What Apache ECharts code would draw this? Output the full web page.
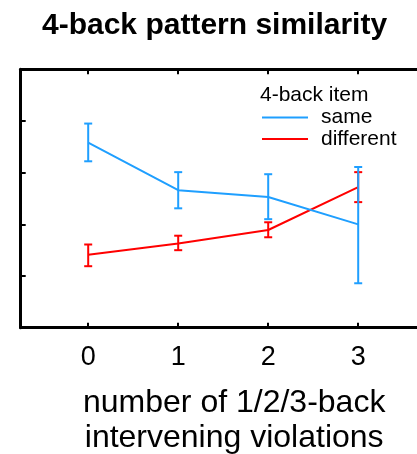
<!DOCTYPE html>
<html>
<head>
<meta charset="utf-8">
<script src="https://cdn.jsdelivr.net/npm/echarts@6/dist/echarts.min.js"></script>
<style>
html,body{margin:0;padding:0;background:#fff;}
#chart{width:417px;height:454px;}
</style>
</head>
<body>
<div id="chart"></div>
<script>
const chartTitle = '4-back pattern similarity';
const legendTitle = '4-back item';
const xName = 'number of 1/2/3-back\nintervening violations';
const xValues = [0, 1, 2, 3];
const seriesNames = ['same', 'different'];
const sameMean = [3.58, 2.66, 2.53, 2.00];
const sameLow  = [3.22, 2.31, 2.10, 0.86];
const sameHigh = [3.95, 3.01, 2.97, 3.11];
const diffMean = [1.41, 1.63, 1.89, 2.72];
const diffLow  = [1.19, 1.50, 1.75, 2.43];
const diffHigh = [1.61, 1.78, 2.04, 3.01];

const BLUE = '#1f9fff';
const RED = '#ff0000';
const FONT = 'Liberation Sans, Arial, sans-serif';

function pairs(xs, ys) { return xs.map((x, i) => [x, ys[i]]); }
function bars(xs, lo, hi) { return xs.map((x, i) => [x, lo[i], hi[i]]); }

function errRender(color) {
  return function (params, api) {
    const x = api.value(0);
    const pLo = api.coord([x, api.value(1)]);
    const pHi = api.coord([x, api.value(2)]);
    const w = 4;
    const style = { stroke: color, lineWidth: 2 };
    return {
      type: 'group',
      children: [
        { type: 'line', shape: { x1: pLo[0], y1: pLo[1], x2: pHi[0], y2: pHi[1] }, style: style },
        { type: 'line', shape: { x1: pLo[0] - w, y1: pLo[1], x2: pLo[0] + w, y2: pLo[1] }, style: style },
        { type: 'line', shape: { x1: pHi[0] - w, y1: pHi[1], x2: pHi[0] + w, y2: pHi[1] }, style: style }
      ]
    };
  };
}

const axisLineStyle = { color: '#000', width: 3 };
const tickStyle = { color: '#000', width: 2 };

const chart = echarts.init(document.getElementById('chart'), null, { renderer: 'canvas' });
chart.setOption({
  animation: false,
  backgroundColor: '#fff',
  title: [
    { text: chartTitle, left: 42, top: 11, padding: 0,
      textStyle: { fontFamily: FONT, fontWeight: 'bold', fontSize: 30, color: '#000' } },
    { text: legendTitle, left: 260, top: 85, padding: 0,
      textStyle: { fontFamily: FONT, fontWeight: 'normal', fontSize: 21, color: '#000' } }
  ],
  legend: {
    data: seriesNames,
    orient: 'vertical',
    left: 262,
    top: 107,
    padding: 0,
    itemWidth: 46,
    itemHeight: 2,
    itemGap: 0.6,
    icon: 'rect',
    textStyle: { fontFamily: FONT, fontSize: 21, color: '#000', padding: [0, 0, 0, 8] }
  },
  grid: { left: 20.7, top: 69.3, width: 405, height: 258.4, containLabel: false, outerBoundsMode: 'none' },
  xAxis: [
    {
      type: 'value', min: -0.75, max: 3.75, position: 'bottom',
      axisLine: { show: true, onZero: false, lineStyle: axisLineStyle },
      axisTick: { show: true, inside: true, length: 5, customValues: xValues, lineStyle: tickStyle },
      axisLabel: { show: true, customValues: xValues, fontFamily: FONT, fontSize: 27, color: '#000', margin: 16 },
      splitLine: { show: false },
      name: xName, nameLocation: 'middle', nameGap: 58,
      nameTextStyle: { fontFamily: FONT, fontSize: 32, color: '#000', lineHeight: 35, padding: [0, 0, 0, 22] }
    },
    {
      type: 'value', min: -0.75, max: 3.75, position: 'top',
      axisLine: { show: true, onZero: false, lineStyle: axisLineStyle },
      axisTick: { show: true, inside: true, length: 5, customValues: xValues, lineStyle: tickStyle },
      axisLabel: { show: false },
      splitLine: { show: false }
    }
  ],
  yAxis: {
    type: 'value', min: 0, max: 5, interval: 1,
    axisLine: { show: true, onZero: false, lineStyle: axisLineStyle },
    axisTick: { show: true, inside: true, length: 5, lineStyle: tickStyle },
    axisLabel: { show: false },
    splitLine: { show: false }
  },
  series: [
    { name: seriesNames[1], type: 'line', data: pairs(xValues, diffMean), color: RED,
      showSymbol: false, symbol: 'none', lineStyle: { width: 2, color: RED }, z: 2 },
    { name: seriesNames[1] + ' err', type: 'custom', data: bars(xValues, diffLow, diffHigh),
      encode: { x: 0, y: [1, 2] }, renderItem: errRender(RED), z: 3 },
    { name: seriesNames[0], type: 'line', data: pairs(xValues, sameMean), color: BLUE,
      showSymbol: false, symbol: 'none', lineStyle: { width: 2, color: BLUE }, z: 4 },
    { name: seriesNames[0] + ' err', type: 'custom', data: bars(xValues, sameLow, sameHigh),
      encode: { x: 0, y: [1, 2] }, renderItem: errRender(BLUE), z: 5 }
  ]
});
</script>
</body>
</html>
